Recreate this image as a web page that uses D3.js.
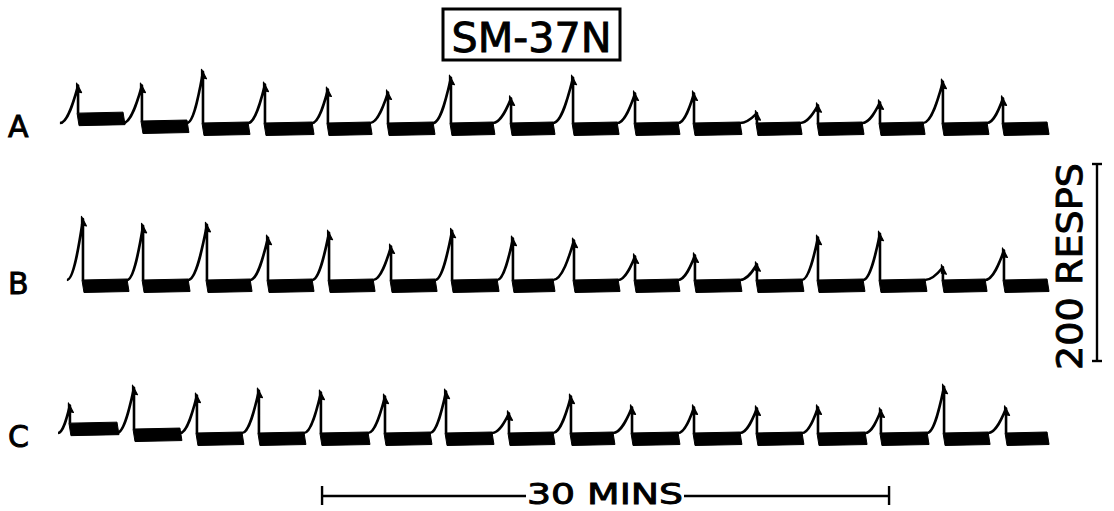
<!DOCTYPE html>
<html>
<head>
<meta charset="utf-8">
<script src="https://cdn.jsdelivr.net/npm/d3@7"></script>
<style>
  body { margin: 0; background: #fff; }
  svg { display: block; }
</style>
</head>
<body>
<svg id="drawing_region"></svg>
<script>
// cumulative records, times in minutes from the left edge, heights in responses
const rowLabels = ["A", "B", "C"];

const startA = 0.26;
const peakTimesA = [1.22, 4.60, 7.83, 11.11, 14.44, 17.62, 20.95, 24.13, 27.41, 30.69, 33.81, 37.14, 40.37, 43.65, 46.98, 50.16];
const peakRespA = [38, 38, 52, 39, 34, 31, 46, 25, 46, 30, 30, 10, 18, 21, 42, 25];
const bandEndsA = [3.60, 6.98, 10.21, 13.60, 16.67, 20.00, 23.17, 26.35, 29.74, 32.96, 36.24, 39.42, 42.70, 45.93, 49.31, 52.49];
const bandLiftA = [10, 2];

const startB = 0.63;
const peakTimesB = [1.48, 4.66, 8.04, 11.27, 14.50, 17.78, 21.01, 24.23, 27.46, 30.69, 33.86, 37.14, 40.37, 43.65, 46.98, 50.21];
const peakRespB = [62, 55, 56, 43, 48, 34, 50, 42, 40, 24, 25, 16, 43, 47, 13, 30];
const bandEndsB = [3.81, 7.04, 10.32, 13.60, 16.83, 20.11, 23.39, 26.35, 29.79, 32.96, 36.24, 39.52, 42.75, 46.03, 49.21, 52.49];
const bandLiftB = [];

const startC = 0.16;
const peakTimesC = [0.79, 4.18, 7.51, 10.79, 14.07, 17.46, 20.69, 24.02, 27.30, 30.53, 33.81, 37.14, 40.37, 43.70, 47.04, 50.32];
const peakRespC = [28, 46, 38, 43, 41, 37, 42, 20, 37, 26, 26, 25, 26, 23, 47, 25];
const bandEndsC = [3.28, 6.61, 9.89, 13.17, 16.56, 19.84, 23.12, 26.35, 29.52, 32.96, 36.24, 39.52, 42.86, 46.14, 49.37, 52.49];
const bandLiftC = [10, 4];

const timeBarStart = 14.13;   // 30 min calibration bar
const timeBarLength = 30;
const respBarLength = 200;    // 200 responses calibration bar

const rows = [
  { label: rowLabels[0], base: 123, start: startA, peaks: peakTimesA, resp: peakRespA, ends: bandEndsA, lift: bandLiftA },
  { label: rowLabels[1], base: 280, start: startB, peaks: peakTimesB, resp: peakRespB, ends: bandEndsB, lift: bandLiftB },
  { label: rowLabels[2], base: 433, start: startC, peaks: peakTimesC, resp: peakRespC, ends: bandEndsC, lift: bandLiftC },
];

const width = 1114, height = 511;
const font = "'DejaVu Sans', 'Liberation Sans', sans-serif";

const svg = d3.select('#drawing_region')
  .attr('width', width)
  .attr('height', height);

svg.append('rect').attr('width', width).attr('height', height).attr('fill', '#fff');

const xscale = d3.scaleLinear().domain([0, 30]).range([55, 55 + 567]);
const pxPerResp = 197 / 200;

// heavier lettering like the inked original
function label(sel, size) {
  return sel
    .attr('font-family', font)
    .attr('font-size', size)
    .attr('fill', '#000')
    .attr('stroke', '#000')
    .attr('stroke-width', 0.9);
}

rows.forEach(row => {
  const yscale = d3.scaleLinear().domain([0, 200]).range([row.base, row.base - 200 * pxPerResp]);
  const g = svg.append('g');

  row.peaks.forEach((tp, i) => {
    const t0 = i === 0 ? row.start : row.ends[i - 1];
    const x0 = xscale(t0), xp = xscale(tp);
    const yb = yscale(0), yp = yscale(row.resp[i]);
    const ylift = yscale(row.lift[i] || 0);
    const w = xp - x0;

    // response ramp and pen reset
    const p = d3.path();
    p.moveTo(x0, yb);
    p.bezierCurveTo(x0 + w * 0.45, yb, xp - w * 0.2, yp + (yb - yp) * 0.35, xp, yp);
    p.lineTo(xp, ylift);
    g.append('path')
      .attr('d', p.toString())
      .attr('fill', 'none')
      .attr('stroke', '#000')
      .attr('stroke-width', 2.6)
      .attr('stroke-linejoin', 'round');

    // reinforcement pip
    g.append('polygon')
      .attr('points', [[xp - 1.5, yp - 2.5], [xp + 3.5, yp + 7], [xp - 1.5, yp + 6]].join(' '))
      .attr('fill', '#000')
      .attr('stroke', '#000')
      .attr('stroke-width', 1.2)
      .attr('stroke-linejoin', 'round');

    // timeout band
    const xe = xscale(row.ends[i]);
    g.append('polygon')
      .attr('points', [[xp - 1, ylift], [xe, ylift - 1], [xe + 2, ylift + 11.5], [xp + 1, ylift + 12.5]].join(' '))
      .attr('fill', '#000')
      .attr('stroke', '#000')
      .attr('stroke-width', 1)
      .attr('stroke-linejoin', 'round');
  });

  svg.append('text')
    .attr('x', 8)
    .attr('y', row.base + 14)
    .call(label, 30)
    .text(row.label);
});

// title
svg.append('rect')
  .attr('x', 443).attr('y', 9)
  .attr('width', 177).attr('height', 51)
  .attr('fill', 'none')
  .attr('stroke', '#000')
  .attr('stroke-width', 3);

svg.append('text')
  .attr('x', 531.5).attr('y', 52)
  .attr('text-anchor', 'middle')
  .call(label, 41)
  .attr('textLength', 160)
  .attr('lengthAdjust', 'spacingAndGlyphs')
  .text('SM-37N');

// 200 responses bar
const respScale = d3.scaleLinear().domain([0, respBarLength]).range([361, 361 - respBarLength * pxPerResp]);
const rb = svg.append('g').attr('stroke', '#000').attr('stroke-width', 2.4);
rb.append('line').attr('x1', 1097).attr('x2', 1097).attr('y1', respScale(0)).attr('y2', respScale(respBarLength));
rb.append('line').attr('x1', 1092).attr('x2', 1102).attr('y1', respScale(0)).attr('y2', respScale(0));
rb.append('line').attr('x1', 1092).attr('x2', 1102).attr('y1', respScale(respBarLength)).attr('y2', respScale(respBarLength));

svg.append('text')
  .attr('transform', 'translate(1082, 370) rotate(-90)')
  .call(label, 36)
  .attr('textLength', 207)
  .attr('lengthAdjust', 'spacingAndGlyphs')
  .text('200 RESPS');

// 30 minute bar
const tb = svg.append('g').attr('stroke', '#000').attr('stroke-width', 2.4);
const xa = xscale(timeBarStart), xb = xscale(timeBarStart + timeBarLength);
tb.append('line').attr('x1', xa).attr('x2', 526).attr('y1', 496).attr('y2', 496);
tb.append('line').attr('x1', 684).attr('x2', xb).attr('y1', 496).attr('y2', 496);
tb.append('line').attr('x1', xa).attr('x2', xa).attr('y1', 486).attr('y2', 505);
tb.append('line').attr('x1', xb).attr('x2', xb).attr('y1', 486).attr('y2', 505);

svg.append('text')
  .attr('x', 527).attr('y', 503.5)
  .call(label, 29)
  .attr('textLength', 156)
  .attr('lengthAdjust', 'spacingAndGlyphs')
  .text('30 MINS');
</script>
</body>
</html>
